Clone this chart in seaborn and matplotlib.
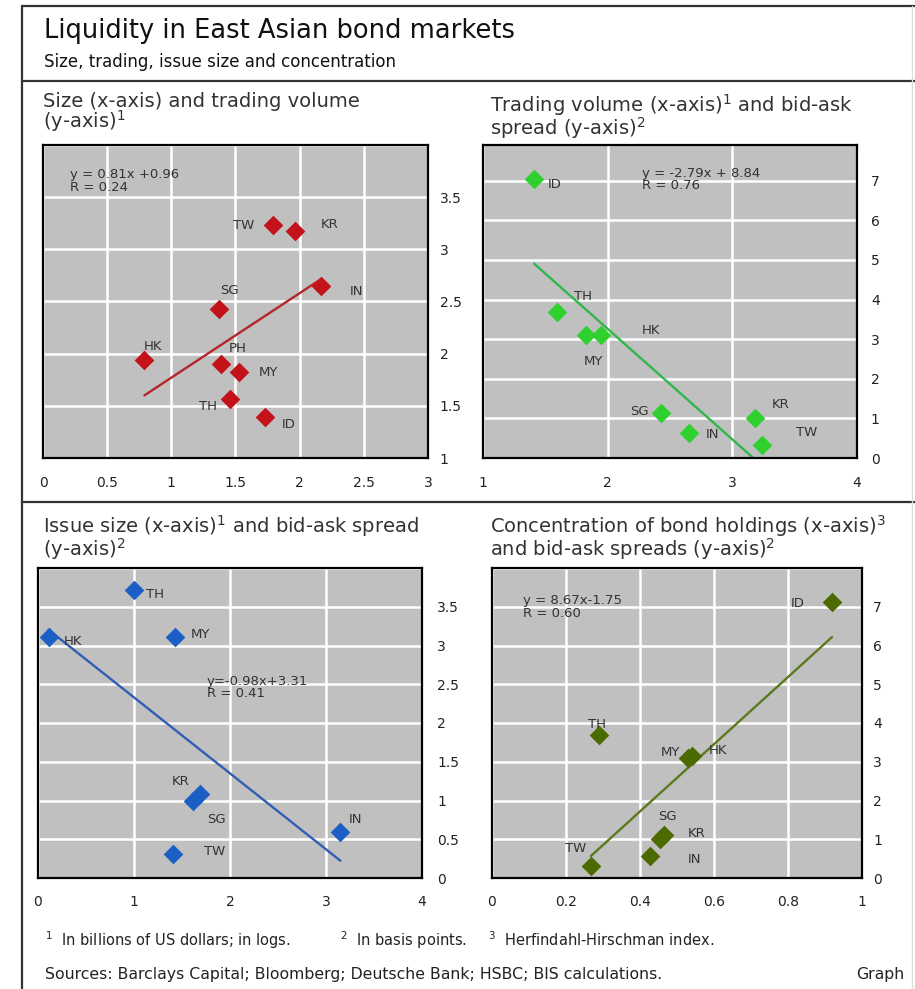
import matplotlib
matplotlib.use("Agg")
import matplotlib.pyplot as plt
from matplotlib.lines import Line2D
import numpy as np
import pandas as pd
import seaborn as sns

sns.set_style("white")
plt.rcParams["font.family"] = ["DejaVu Sans"]

# ---- panel data -------------------------------------------------------
# Size (x) vs trading volume (y)
p1_codes = ["TW", "KR", "IN", "SG", "HK", "PH", "MY", "TH", "ID"]
p1_x = [1.79, 1.96, 2.17, 1.37, 0.79, 1.39, 1.53, 1.46, 1.73]
p1_y = [3.23, 3.18, 2.65, 2.43, 1.94, 1.90, 1.82, 1.57, 1.39]
p1_fit = (0.81, 0.96)
p1_eq = "y = 0.81x +0.96\nR = 0.24"

# Trading volume (x) vs bid-ask spread (y)
p2_codes = ["ID", "TH", "MY", "HK", "SG", "IN", "KR", "TW"]
p2_x = [1.41, 1.59, 1.83, 1.95, 2.43, 2.65, 3.18, 3.24]
p2_y = [7.04, 3.68, 3.11, 3.11, 1.13, 0.64, 1.01, 0.32]
p2_fit = (-2.79, 8.84)
p2_eq = "y = -2.79x + 8.84\nR = 0.76"

# Issue size (x) vs bid-ask spread (y)
p3_codes = ["TH", "HK", "MY", "KR", "SG", "IN", "TW"]
p3_x = [1.00, 0.11, 1.43, 1.69, 1.61, 3.15, 1.41]
p3_y = [3.71, 3.11, 3.11, 1.09, 1.00, 0.59, 0.31]
p3_fit = (-0.98, 3.31)
p3_eq = "y=-0.98x+3.31\nR = 0.41"

# Concentration of holdings (x) vs bid-ask spread (y)
p4_codes = ["ID", "TH", "MY", "HK", "SG", "KR", "IN", "TW"]
p4_x = [0.919, 0.29, 0.53, 0.54, 0.466, 0.453, 0.428, 0.267]
p4_y = [7.11, 3.68, 3.10, 3.14, 1.12, 1.00, 0.58, 0.30]
p4_fit = (8.67, -1.75)
p4_eq = "y = 8.67x-1.75\nR = 0.60"

# label offsets (points) for each country code
p1_off = {"TW": (-13, 0, "right"), "KR": (19, 4, "left"), "IN": (20, -4, "left"),
          "SG": (8, 13, "center"), "HK": (6, 10, "center"), "PH": (12, 11, "center"),
          "MY": (14, 0, "left"), "TH": (-16, -6, "center"), "ID": (12, -5, "left")}
p2_off = {"ID": (10, -4, "left"), "TH": (19, 11, "center"), "MY": (5, -19, "center"),
          "HK": (29, 3, "left"), "SG": (-9, 1, "right"), "IN": (12, -1, "left"),
          "KR": (12, 10, "left"), "TW": (24, 9, "left")}
p3_off = {"TH": (9, -3, "left"), "HK": (11, -3, "left"), "MY": (11, 2, "left"),
          "KR": (-14, 9, "center"), "SG": (17, -14, "center"), "IN": (6, 9, "left"),
          "TW": (22, 2, "left")}
p4_off = {"ID": (-20, -1, "right"), "TH": (-2, 8, "center"), "MY": (-6, 4, "right"),
          "HK": (12, 4, "left"), "SG": (2, 13, "center"), "KR": (20, 4, "left"),
          "IN": (27, -3, "left"), "TW": (-11, 13, "center")}

W, H = 915, 989
fig = plt.figure(figsize=(W / 100, H / 100), dpi=100)


def px_axes(x0, y0, x1, y1):
    return fig.add_axes([x0 / W, 1 - y1 / H, (x1 - x0) / W, (y1 - y0) / H])


def panel(ax, codes, xs, ys, fit, eq, eq_pos, offs, color, line_color,
          xlim, ylim, xticks, yticks, xlabels, ylabels, xpad, ypad):
    df = pd.DataFrame({"x": xs, "y": ys, "code": codes})
    ax.set_facecolor("#c0c0c0")
    ax.set_xlim(*xlim)
    ax.set_ylim(*ylim)
    ax.set_xticks(xticks)
    ax.set_yticks(yticks)
    ax.set_xticklabels(xlabels)
    ax.set_yticklabels(ylabels)
    ax.grid(True, color="white", linewidth=1.8)
    ax.set_axisbelow(True)
    ax.yaxis.tick_right()
    ax.tick_params(axis="both", length=0, labelsize=10, colors="#222222")
    ax.tick_params(axis="x", pad=xpad)
    ax.tick_params(axis="y", pad=ypad)
    for s in ax.spines.values():
        s.set_color("black")
        s.set_linewidth(1.6)
    # regression line across the data range
    fx = np.array([min(xs), max(xs)])
    fy = fit[0] * fx + fit[1]
    sns.lineplot(x=fx, y=fy, ax=ax, color=line_color, linewidth=1.7, zorder=2)
    sns.scatterplot(data=df, x="x", y="y", ax=ax, marker="D", s=100,
                    color=color, edgecolor=color, linewidth=0, zorder=3)
    for c, x, y in zip(codes, xs, ys):
        dx, dy, ha = offs[c]
        ax.annotate(c, (x, y), xytext=(dx, dy), textcoords="offset points",
                    ha=ha, va="center", fontsize=9.5, color="#333333")
    ax.text(eq_pos[0], eq_pos[1], eq, transform=ax.transAxes, ha="left",
            va="top", fontsize=9.5, color="#333333", linespacing=0.92)
    ax.set_xlabel("")
    ax.set_ylabel("")


ax1 = px_axes(43, 145, 428, 458)
panel(ax1, p1_codes, p1_x, p1_y, p1_fit, p1_eq, (0.07, 0.925), p1_off,
      "#c4121a", "#b5262b", (0, 3), (1, 4),
      [0, 0.5, 1, 1.5, 2, 2.5, 3], [1, 1.5, 2, 2.5, 3, 3.5, 4],
      ["0", "0.5", "1", "1.5", "2", "2.5", "3"],
      ["1", "1.5", "2", "2.5", "3", "3.5", ""], 13, 8.5)

ax2 = px_axes(483, 145, 857, 458)
panel(ax2, p2_codes, p2_x, p2_y, p2_fit, p2_eq, (0.425, 0.93), p2_off,
      "#2fd12f", "#2fb84a", (1, 4), (0, 7.9),
      [1, 2, 3, 4], [0, 1, 2, 3, 4, 5, 6, 7],
      ["1", "2", "3", "4"], [str(v) for v in range(8)], 13, 10)

ax3 = px_axes(38, 568, 422, 878)
panel(ax3, p3_codes, p3_x, p3_y, p3_fit, p3_eq, (0.44, 0.655), p3_off,
      "#1b5fc4", "#2f5fb3", (0, 4), (0, 4),
      [0, 1, 2, 3, 4], [0, 0.5, 1, 1.5, 2, 2.5, 3, 3.5, 4],
      ["0", "1", "2", "3", "4"],
      ["0", "0.5", "1", "1.5", "2", "2.5", "3", "3.5", ""], 12, 11)

ax4 = px_axes(492, 568, 862, 878)
panel(ax4, p4_codes, p4_x, p4_y, p4_fit, p4_eq, (0.084, 0.915), p4_off,
      "#4b6a00", "#5b7a1c", (0, 1), (0, 8),
      [0, 0.2, 0.4, 0.6, 0.8, 1], list(range(9)),
      ["0", "0.2", "0.4", "0.6", "0.8", "1"],
      [str(v) for v in range(8)] + [""], 12, 8)


def ftext(x, y, s, **kw):
    fig.text(x / W, 1 - y / H, s, **kw)


def fline(x0, y0, x1, y1, **kw):
    fig.add_artist(Line2D([x0 / W, x1 / W], [1 - y0 / H, 1 - y1 / H], **kw))


# frame rules
fline(22, 6, 915, 6, color="#333333", linewidth=1.6)
fline(22, 81, 915, 81, color="#333333", linewidth=1.6)
fline(22, 502, 915, 502, color="#333333", linewidth=1.6)
fline(22, 6, 22, 989, color="#333333", linewidth=1.6)
fline(912, 6, 912, 989, color="#dddddd", linewidth=1.0)

ftext(44, 31, "Liquidity in East Asian bond markets", fontsize=18.5,
      va="center", color="#111111")
ftext(44, 62, "Size, trading, issue size and concentration", fontsize=12,
      va="center", color="#111111")

title_kw = dict(fontsize=14, va="top", color="#333333", linespacing=0.85)
ftext(43, 92, "Size (x-axis) and trading volume\n(y-axis)$^1$", **title_kw)
ftext(490, 92, "Trading volume (x-axis)$^1$ and bid-ask\nspread (y-axis)$^2$",
      **title_kw)
ftext(43, 513, "Issue size (x-axis)$^1$ and bid-ask spread\n(y-axis)$^2$",
      **title_kw)
ftext(490, 513,
      "Concentration of bond holdings (x-axis)$^3$\nand bid-ask spreads (y-axis)$^2$",
      **title_kw)

note_kw = dict(fontsize=10.5, va="center", color="#222222")
ftext(45, 940, "$^1$  In billions of US dollars; in logs.", **note_kw)
ftext(340, 940, "$^2$  In basis points.", **note_kw)
ftext(488, 940, "$^3$  Herfindahl-Hirschman index.", **note_kw)
ftext(45, 975, "Sources: Barclays Capital; Bloomberg; Deutsche Bank; HSBC; BIS calculations.",
      fontsize=11.3, va="center", color="#222222")
ftext(856, 975, "Graph", fontsize=11.3, va="center", color="#222222")

fig.savefig("out.png", dpi=100)
